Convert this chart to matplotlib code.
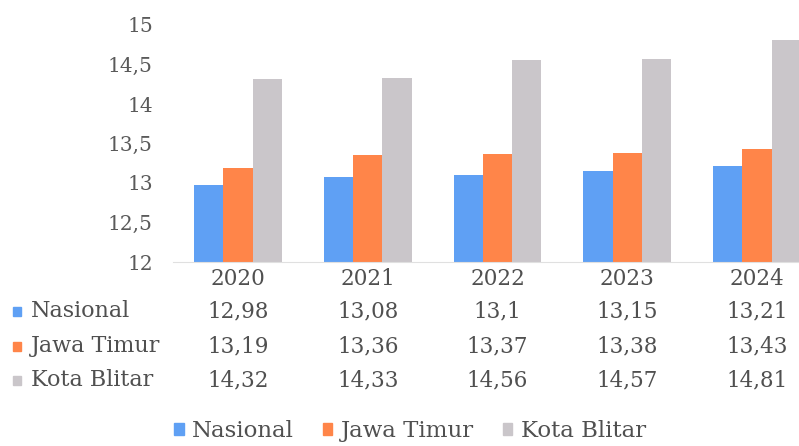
import matplotlib
matplotlib.use("Agg")
import matplotlib.pyplot as plt
from matplotlib.patches import Patch
from matplotlib.transforms import blended_transform_factory
import numpy as np

years = ["2020", "2021", "2022", "2023", "2024"]
series_names = ["Nasional", "Jawa Timur", "Kota Blitar"]
nasional = [12.98, 13.08, 13.10, 13.15, 13.21]
jawa_timur = [13.19, 13.36, 13.37, 13.38, 13.43]
kota_blitar = [14.32, 14.33, 14.56, 14.57, 14.81]
table_text = {
    "Nasional": ["12,98", "13,08", "13,1", "13,15", "13,21"],
    "Jawa Timur": ["13,19", "13,36", "13,37", "13,38", "13,43"],
    "Kota Blitar": ["14,32", "14,33", "14,56", "14,57", "14,81"],
}
y_ticks = [12, 12.5, 13, 13.5, 14, 14.5, 15]
y_tick_labels = ["12", "12,5", "13", "13,5", "14", "14,5", "15"]

colors = ["#5FA0F4", "#FF8549", "#CAC6CA"]
text_color = "#505050"
font = "DejaVu Serif"
plt.rcParams["font.family"] = [font]

fig = plt.figure(figsize=(7.99, 4.46), dpi=100)
W, H = 799, 446
ax = fig.add_axes([173 / W, (H - 262) / H, 649 / W, 237 / H])

x = np.arange(len(years))
bw = 0.225
for i, (vals, c) in enumerate(zip([nasional, jawa_timur, kota_blitar], colors)):
    ax.bar(x + (i - 1) * bw, [v - 12 for v in vals], bw, bottom=12, color=c, linewidth=0)

ax.set_xlim(-0.5, len(years) - 0.5)
ax.set_ylim(12, 15)
ax.set_yticks(y_ticks)
ax.set_yticklabels(y_tick_labels, fontsize=14.5, color="#5A5A5A")
ax.tick_params(axis="y", length=0, pad=14.5)
ax.set_xticks([])
for s in ["top", "right", "left"]:
    ax.spines[s].set_visible(False)
ax.spines["bottom"].set_color("#E0E0E0")

tr = blended_transform_factory(ax.transData, fig.transFigure)
num_fs = 15.5
# year header row
for xi, yr in zip(x, years):
    ax.text(xi, 1 - 279 / H, yr, transform=tr, ha="center", va="center",
            fontsize=num_fs, color=text_color, clip_on=False)

row_y = [311, 346, 380]
ftr = fig.transFigure
for name, c, ry in zip(series_names, colors, row_y):
    yy = 1 - ry / H
    fig.patches.append(plt.Rectangle((13 / W, yy - 4.5 / H), 8 / W, 9 / H,
                                     transform=ftr, color=c, figure=fig))
    fig.text(31 / W, yy, name, ha="left", va="center", fontsize=16, color=text_color)
    for xi, t in zip(x, table_text[name]):
        ax.text(xi, yy, t, transform=tr, ha="center", va="center",
                fontsize=num_fs, color=text_color, clip_on=False)

handles = [Patch(color=c, label=n) for c, n in zip(colors, series_names)]
leg = fig.legend(handles=handles, loc="center", bbox_to_anchor=(410 / W, 1 - 431 / H),
                 ncol=3, frameon=False, fontsize=16.5, handlelength=0.4, handleheight=0.4,
                 handletextpad=0.35, columnspacing=1.3, labelcolor=text_color)

fig.savefig("out.png", dpi=100)
